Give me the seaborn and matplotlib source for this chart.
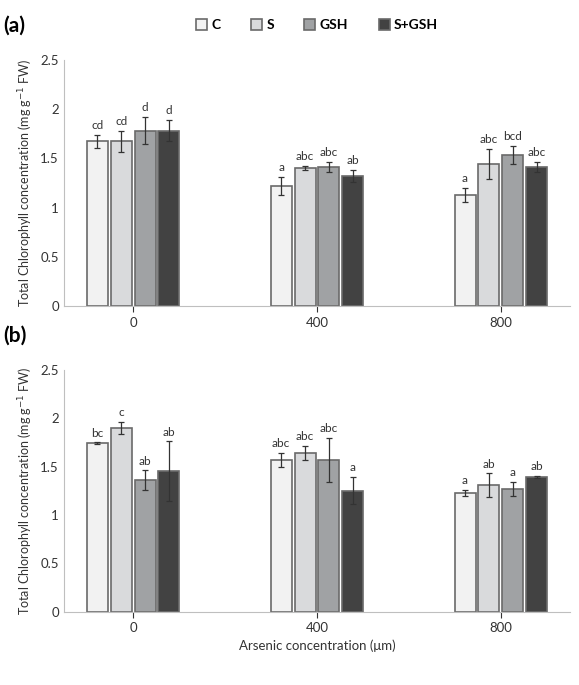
import pandas as pd
import matplotlib.pyplot as plt
import seaborn as sns

# Data
doses = ["0", "400", "800"]
treatments = ["C", "S", "GSH", "S+GSH"]
colors = ["#f2f2f2", "#d9dadc", "#a0a2a4", "#424242"]

a_mean = {"C": [1.67, 1.22, 1.13], "S": [1.67, 1.40, 1.44],
          "GSH": [1.78, 1.41, 1.53], "S+GSH": [1.78, 1.32, 1.41]}
a_err = {"C": [0.07, 0.09, 0.07], "S": [0.11, 0.02, 0.15],
         "GSH": [0.14, 0.05, 0.09], "S+GSH": [0.11, 0.06, 0.05]}
a_lab = {"C": ["cd", "a", "a"], "S": ["cd", "abc", "abc"],
         "GSH": ["d", "abc", "bcd"], "S+GSH": ["d", "ab", "abc"]}

b_mean = {"C": [1.74, 1.57, 1.23], "S": [1.90, 1.64, 1.31],
          "GSH": [1.36, 1.57, 1.27], "S+GSH": [1.45, 1.25, 1.39]}
b_err = {"C": [0.01, 0.07, 0.03], "S": [0.06, 0.07, 0.12],
         "GSH": [0.10, 0.23, 0.07], "S+GSH": [0.31, 0.14, 0.01]}
b_lab = {"C": ["bc", "abc", "a"], "S": ["c", "abc", "ab"],
         "GSH": ["ab", "abc", "a"], "S+GSH": ["ab", "a", "ab"]}

plt.rcParams['font.family'] = ['Lato', 'DejaVu Sans']
fig = plt.figure(figsize=(5.79, 6.85), dpi=100)
ax_a = fig.add_axes([0.11, 0.553, 0.875, 0.36])
ax_b = fig.add_axes([0.11, 0.107, 0.875, 0.353])


def panel(ax, means, errs, labs, tag):
    rows = []
    for t in treatments:
        for i, d in enumerate(doses):
            rows.append({"dose": d, "trt": t, "val": means[t][i],
                         "err": errs[t][i], "lab": labs[t][i]})
    df = pd.DataFrame(rows)
    sns.barplot(data=df, x="dose", y="val", hue="trt", hue_order=treatments,
                palette=colors, order=doses, width=0.52, gap=0.12,
                edgecolor="#6a6a6a", linewidth=1.2, errorbar=None, ax=ax,
                legend=(tag == "(a)"))
    for container, t in zip(ax.containers, treatments):
        sub = df[df.trt == t].set_index("dose").loc[doses]
        for bar, (_, r) in zip(container, sub.iterrows()):
            x = bar.get_x() + bar.get_width() / 2
            ax.errorbar(x, r.val, yerr=r.err, color="#333333", capsize=2.5,
                        elinewidth=0.9, capthick=0.9)
            ax.text(x, r.val + r.err + 0.04, r.lab, ha="center", va="bottom",
                    fontsize=8.5, color="#333333")
    ax.set_ylim(0, 2.5)
    ax.set_yticks([0, 0.5, 1, 1.5, 2, 2.5])
    ax.set_yticklabels(["0", "0.5", "1", "1.5", "2", "2.5"])
    ax.set_ylabel("Total Chlorophyll concentration (mg g$^{-1}$ FW)",
                  fontsize=9, color="#333333")
    ax.set_xlabel("")
    ax.tick_params(axis="y", length=0, labelsize=9.5, colors="#333333")
    ax.tick_params(axis="x", length=4, labelsize=9.5, colors="#333333")
    for s in ["top", "right"]:
        ax.spines[s].set_visible(False)
    ax.spines["left"].set_color("#bfbfbf")
    ax.spines["bottom"].set_color("#bfbfbf")
    fig.text(0.005, ax.get_position().y1 + 0.05, tag, fontsize=15,
             fontweight="bold", va="center")


panel(ax_a, a_mean, a_err, a_lab, "(a)")
panel(ax_b, b_mean, b_err, b_lab, "(b)")
ax_b.set_xlabel("Arsenic concentration (\u03bcm)", fontsize=9.5, color="#333333")

ax_a.legend(loc="upper center", bbox_to_anchor=(0.5, 1.215), ncol=4,
            frameon=False, handlelength=0.8, handleheight=0.8,
            columnspacing=2.2, handletextpad=0.3,
            prop={"weight": "bold", "size": 10})

fig.savefig("out.png", dpi=100)
